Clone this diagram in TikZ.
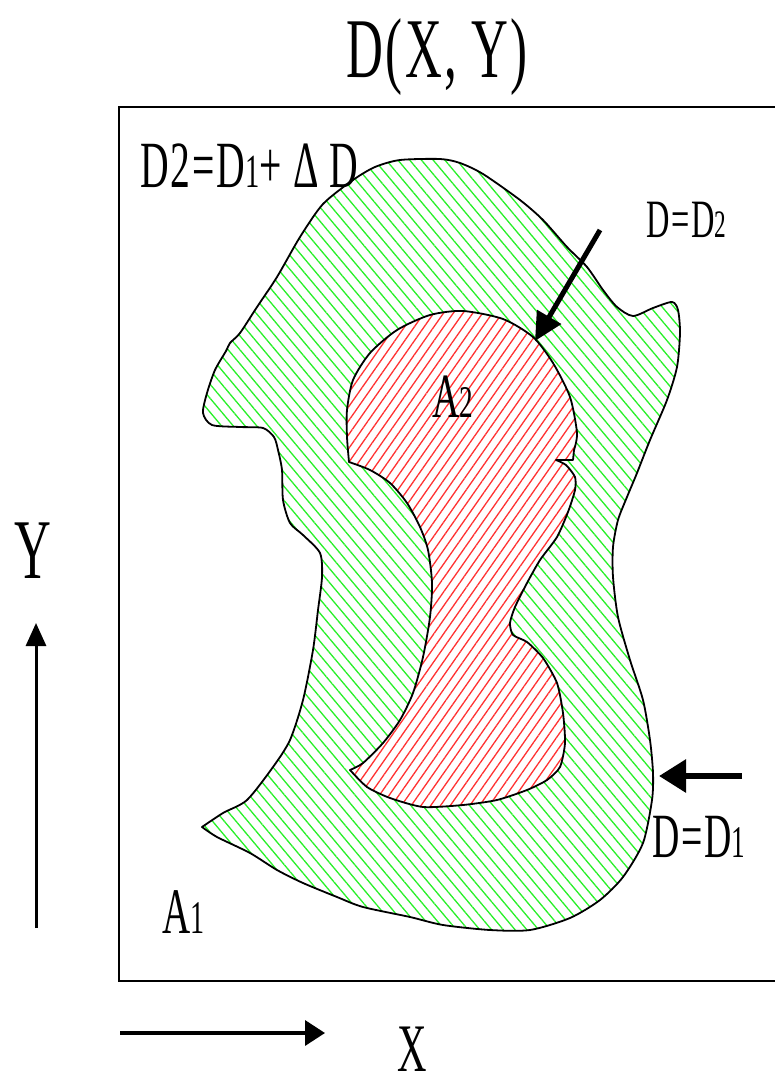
\documentclass[tikz,border=0pt]{standalone}
\usepackage{fontspec}
\usepackage{graphicx}
\newfontfamily\cf{Liberation Serif}[FakeStretch=0.6,LetterSpace=3]
\usetikzlibrary{arrows.meta,patterns.meta}
\newcommand\smd[1]{\scalebox{0.72}{#1}}
\definecolor{hg}{RGB}{40,240,40}
\definecolor{hr}{RGB}{255,50,50}
\tikzset{
  lbl/.style={inner sep=0pt, anchor=base west, text depth=0pt},
  outline/.style={line width=1.8pt, line join=round},
  frame/.style={line width=2pt},
  greenhatch/.style={pattern={Lines[angle=-50,distance=9pt,line width=1.3pt]}, pattern color=hg},
  redhatch/.style={pattern={Lines[angle=55,distance=8pt,line width=1.3pt]}, pattern color=hr},
}
\newcommand\fs[1]{\cf\fontsize{#1}{#1}\selectfont}
\begin{document}
\begin{tikzpicture}[x=1pt,y=-1pt]
\useasboundingbox (0,0) rectangle (775,1086);
% frame
\draw[frame] (800,107) -- (119,107) -- (119,981) -- (800,981);

% outer region A1 (D = D1)
\path[outline, draw, greenhatch] plot[smooth, tension=0.45] coordinates {
(202,827) (223,813) (247,800) (273,767) (290,740) (303,700) (313,650) (318,610)
(322,577) (320,553) (303,535) (290,523) (283,500) (282,470) (278,450) (274,437)
(263,428) (240,427) (212,425) (203,413) (207,393) (215,370) (226,351) (230,343)
(240,333) (257,307) (277,277) (300,237) (323,204) (353,180) (375,167) (400,160)
(440,159) (460,163) (483,174) (520,200) (543,220) (567,247) (587,267) (603,290)
(617,307) (633,316) (653,308) (672,302) (678,310) (680,333) (677,367) (667,400)
(650,440) (637,473) (627,497) (618,520) (613,547) (613,577) (618,617) (630,660)
(643,700) (650,740) (653,773) (652,800) (643,843) (623,877) (600,900) (570,918)
(530,930) (490,930) (443,925) (410,917) (363,907) (337,897) (303,883) (277,870)
(250,853) (217,837) (202,827)} -- cycle;

% inner region A2 (D = D2)
\path[outline, draw, preaction={fill=white}, redhatch]
  plot[smooth, tension=0.45] coordinates {
(349,462) (347,437) (347,410) (353,380) (370,353) (397,330) (430,315) (463,311)
(503,319) (533,337) (553,363) (570,397) (577,433) (574,450)}
  -- (573,460) -- (556,460)
  -- plot[smooth, tension=0.4] coordinates {
(556,460) (566,465) (575,477) (575,490) (568,512) (557,537) (540,560) (527,583)
(515,607) (510,623) (513,635) (527,642) (543,658) (557,683) (563,713) (565,743)
(560,767) (547,780) (527,790) (497,800) (463,805) (423,807) (390,798) (367,787)
(350,770)}
  -- plot[smooth, tension=0.45] coordinates {
(350,770) (363,763) (383,743) (400,720) (413,693) (423,657) (430,617) (432,583)
(428,550) (420,527) (407,503) (390,483) (370,470) (349,462)}
  -- cycle;

% texts
\node[lbl, anchor=base, font=\fs{85}] (title) at (437,78) {D(X,\,Y)};
\node[lbl, font=\fs{66}] (dd) at (140,187) {D2=D\smd{1}+\,Δ\,D};
\node[lbl, font=\fs{54}] (dtwo) at (646,237) {D=D\smd{2}};
\node[lbl, font=\fs{63}] (atwo) at (432,417) {A\smd{2}};
\node[lbl, font=\fs{63}] (done) at (652,857) {D=D\smd{1}};
\node[lbl, font=\fs{65}] (aone) at (162,933) {A\smd{1}};
\node[lbl, anchor=base, font=\fs{85}] (ylab) at (33,578) {Y};
\node[lbl, anchor=base, font=\fs{68}] (xlab) at (412,1071) {X};

% arrows
\coordinate (d2s) at (600,230);
\coordinate (d2e) at (535,341);
\draw[line width=5pt, -{Triangle[length=28pt,width=27pt]}] (d2s) -- (d2e);
\coordinate (d1s) at (742,776);
\coordinate (d1e) at (659,776);
\draw[line width=6pt, -{Triangle[length=27pt,width=32pt]}] (d1s) -- (d1e);
\coordinate (ys) at (36,928);
\coordinate (ye) at (36,623);
\draw[line width=3pt, -{Triangle[length=23pt,width=20pt]}] (ys) -- (ye);
\coordinate (xs) at (120,1033);
\coordinate (xe) at (325,1033);
\draw[line width=3.5pt, -{Triangle[length=20pt,width=25pt]}] (xs) -- (xe);
\end{tikzpicture}
\end{document}
